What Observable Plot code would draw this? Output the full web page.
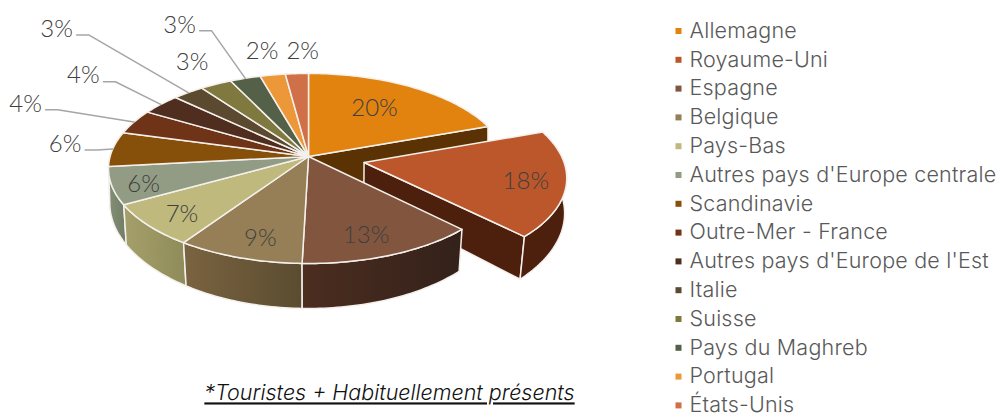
<!DOCTYPE html>
<html><head><meta charset="utf-8">
<script src="https://cdn.jsdelivr.net/npm/d3@7"></script>
<script src="https://cdn.jsdelivr.net/npm/@observablehq/plot@0.6"></script>
<style>
html,body{margin:0;padding:0;background:#fff;overflow:hidden}
</style></head><body><div id="c"></div>
<script>
const categories = ["Allemagne","Royaume-Uni","Espagne","Belgique","Pays-Bas","Autres pays d'Europe centrale","Scandinavie","Outre-Mer - France","Autres pays d'Europe de l'Est","Italie","Suisse","Pays du Maghreb","Portugal","États-Unis"];
const values = [19.6,18.0,12.9,9.1,7.4,6.4,5.9,4.2,3.6,2.9,2.9,2.8,2.3,2.1];
const colors = ["#e2820f","#bb572b","#82553f","#967f56","#bfb97d","#929c84","#87500a","#6f3317","#4f2e20","#5b4a30","#7f793f","#556049","#ed9838","#cf7049"];
const caption = "*Touristes + Habituellement présents";

// layout of the labels in the plane of the pie: radius and angle shift
const labelRadius = [.654,.806,.807,.82,.827,.85,1.255,1.65,1.6,2.25,1.33,1.885,1.334,1.31];
const labelShift  = [-2.3,1.2,2.6,-2.5,-2,-1.9,1.6,-1.2,.5,-1.4,.8,-3.9,-.1,2.3];
const leaderOn = [6,7,8,9,11];

// perspective of the pie
const cx=308, cy=156, A=93.5, C=198.4, k=-.126;
const proj=(u,v)=>[cx+C*u/(1+k*v), cy+A*v/(1+k*v)];
const total=d3.sum(values);
const cum=d3.cumsum(values);
const ang=p=>p/total*2*Math.PI;
const slices=values.map((v,i)=>({i,a0:ang(cum[i]-v),a1:ang(cum[i]),mid:ang(cum[i]-v/2)}));
const ex=slices[1].mid, d=.285;
const off=i=>i===1?[d*Math.sin(ex),-d*Math.cos(ex)]:[0,0];
const rim=(i,t,r=1)=>{const o=off(i);return proj(o[0]+r*Math.sin(t),o[1]-r*Math.cos(t));};
const below=([x,y])=>{const s=Math.min(1,.98+Math.max(0,235-y)*.0002);return [cx+(x-cx)*s, y+40+.0862*(y-205)];};
const arc=(i,a0,a1)=>{const n=Math.max(2,Math.ceil((a1-a0)/.02));return d3.range(n+1).map(j=>rim(i,a0+(a1-a0)*j/n));};
const topPoly=s=>{const a=arc(s.i,s.a0,s.a1),c=rim(s.i,0,0);return [c,...a,c];};
const wallPoly=(s,a0=s.a0,a1=s.a1)=>{const a=arc(s.i,a0,a1);return [...a,...a.slice().reverse().map(below),a[0]];};
const facePoly=(s,t)=>{const c=rim(s.i,0,0),e=rim(s.i,t);return [c,e,below(e),below(c),c];};

const stroke="#f4f0ec";
const poly=(pts,fill,sw=1.5)=>Plot.line(pts,{x:p=>p[0],y:p=>p[1],fill,stroke,strokeWidth:sw,curve:"linear"});
const grads={2:["#4c2d20","#33211a"],3:["#7a6340","#5a4c30"],4:["#a5a06a","#8f8b5a"],5:["#848f77","#717c66"]};

const marks=[];
marks.push(poly(facePoly(slices[0],slices[0].a1),"#5a3204"));
marks.push(poly(topPoly(slices[0]),colors[0]));
marks.push(poly(facePoly(slices[1],slices[1].a1),"#4c200d"));
marks.push(poly(wallPoly(slices[1]),"#4c200d"));
marks.push(poly(topPoly(slices[1]),colors[1]));
[6,5,4,3,2].forEach(i=>{
  const s=slices[i];
  marks.push(poly(wallPoly(s),i===6?"#717c66":`url(#g${i})`));
});
slices.slice(2).forEach(s=>marks.push(poly(topPoly(s),colors[s.i])));

// leader lines
const labelPos=slices.map(s=>rim(s.i,s.mid+labelShift[s.i]*Math.PI/180,labelRadius[s.i]));
leaderOn.forEach(i=>{
  const l=labelPos[i], r=rim(i,slices[i].mid);
  const pts=[[l[0]+20,l[1]+6],[l[0]+32,l[1]+6],r];
  marks.push(Plot.line(pts,{x:p=>p[0],y:p=>p[1],stroke:"#a6a6a6",strokeWidth:1.5,curve:"linear"}));
});
marks.push(Plot.text(slices,{x:s=>labelPos[s.i][0],y:s=>labelPos[s.i][1],text:s=>Math.round(values[s.i])+"%",fontSize:24,fill:"#404040",fontFamily:"Lato",fontWeight:300}));

// legend
const legendRows=categories.map((name,i)=>({name,i,y:30.5+i*28.8}));
marks.push(Plot.dot(legendRows,{x:()=>678,y:"y",symbol:"square",r:3.4,fill:d=>colors[d.i],stroke:null}));
marks.push(Plot.text(legendRows,{x:()=>689,y:"y",text:"name",textAnchor:"start",fontSize:21.5,fill:"#595959",fontFamily:"Inter",fontWeight:300}));
marks.push(Plot.text([caption],{x:()=>389,y:()=>393,text:d=>d,fontSize:21.5,fontStyle:"italic",fill:"#111",fontFamily:"Inter",fontWeight:300}));

const chart=Plot.plot({width:1000,height:417,margin:0,
  x:{domain:[0,1000],axis:null},y:{domain:[417,0],axis:null},marks});
chart.style.background="#fff";
const defs=d3.select(chart).insert("defs",":first-child");
Object.entries(grads).forEach(([i,[a,b]])=>{
  const g=defs.append("linearGradient").attr("id","g"+i).attr("x1",0).attr("x2",1).attr("y1",0).attr("y2",0);
  g.append("stop").attr("offset",0).attr("stop-color",a);
  g.append("stop").attr("offset",1).attr("stop-color",b);
});
const sel=d3.select(chart).selectAll("text");
sel.filter(function(){return this.textContent===caption;}).style("text-decoration","underline");
sel.filter(function(){return categories.includes(this.textContent);}).style("letter-spacing","0.2px");
document.getElementById("c").append(chart);
</script></body></html>
